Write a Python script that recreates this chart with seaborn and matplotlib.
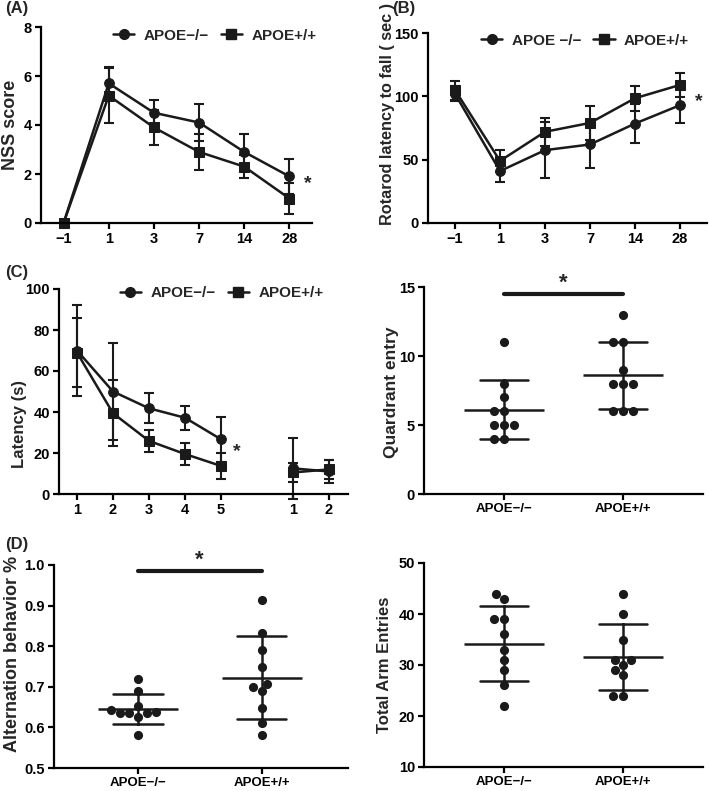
import matplotlib
matplotlib.use('Agg')
import matplotlib.pyplot as plt
from matplotlib.lines import Line2D
import numpy as np
import pandas as pd
import seaborn as sns

KO = 'APOE−/−'
WT = 'APOE+/+'

# (A) NSS score
nss_days = ['−1', '1', '3', '7', '14', '28']
nss_ko = [0, 5.7, 4.5, 4.1, 2.9, 1.9]
nss_ko_err = [0, 0.65, 0.53, 0.74, 0.74, 0.73]
nss_wt = [0, 5.2, 3.9, 2.9, 2.3, 1.0]
nss_wt_err = [0, 1.12, 0.72, 0.73, 0.46, 0.65]

# (B) rotarod
rot_days = ['−1', '1', '3', '7', '14', '28']
rot_ko = [102, 41, 57.5, 62, 78.5, 93]
rot_ko_err = [6, 9, 22, 18.5, 15.5, 14]
rot_wt = [105, 49, 72, 79, 98.5, 109]
rot_wt_err = [7.5, 8.5, 11, 13.5, 10, 9.5]

# (C) water maze latency, training days then probe days
mwm_days = ['1', '2', '3', '4', '5']
mwm_ko = [70, 50, 41.8, 37.2, 26.7]
mwm_ko_err = [22, 23.5, 7.3, 5.8, 11]
mwm_wt = [69, 39.4, 25.9, 19.5, 13.7]
mwm_wt_err = [17, 16.2, 5.3, 5.3, 6.2]
probe_days = ['1', '2']
probe_ko = [12.5, 11.0]
probe_ko_err = [15, 5.5]
probe_wt = [10.5, 12.0]
probe_wt_err = [4.5, 4.5]

# (C) quadrant entries
quad_ko = [11, 8, 7, 6, 6, 5, 5, 5, 4, 4]
quad_wt = [13, 11, 11, 9, 8, 8, 8, 6, 6, 6]

# (D) alternation and arm entries
alt_ko = [0.718, 0.689, 0.653, 0.644, 0.638, 0.636, 0.636, 0.636, 0.626, 0.582]
alt_wt = [0.914, 0.833, 0.79, 0.749, 0.708, 0.700, 0.689, 0.649, 0.612, 0.582]
arm_ko = [44, 43, 39, 39, 36, 33, 31, 29, 26, 22]
arm_wt = [44, 40, 35, 31, 31, 30, 29, 28, 24, 24]

W, H = 709, 791

sns.set_theme(style='ticks')
plt.rcParams['font.family'] = ['Liberation Sans', 'DejaVu Sans']
plt.rcParams['font.weight'] = 'bold'
plt.rcParams['axes.labelweight'] = 'bold'
plt.rcParams['axes.edgecolor'] = 'black'
plt.rcParams['xtick.color'] = 'black'
plt.rcParams['ytick.color'] = 'black'


def px_axes(fig, left, top, right, bottom):
    return fig.add_axes([left / W, 1 - bottom / H, (right - left) / W, (bottom - top) / H])


def style_axes(ax, xsize=10.5):
    sns.despine(ax=ax)
    for s in ('left', 'bottom'):
        ax.spines[s].set_linewidth(1.6)
    ax.tick_params(width=1.6, length=4.5, labelsize=10.5, pad=2)
    ax.tick_params(axis='x', labelsize=xsize)
    ax.set_xlabel('')


def line_panel(ax, pos, ko, ko_err, wt, wt_err, phase):
    n = len(pos)
    df = pd.DataFrame({'pos': list(pos) * 2, 'value': ko + wt, 'err': ko_err + wt_err,
                       'group': [KO] * n + [WT] * n, 'phase': list(phase) * 2})
    sns.lineplot(data=df, x='pos', y='value', style='group', units='phase', estimator=None,
                 markers={KO: 'o', WT: 's'}, dashes=False, color='k', linewidth=1.8,
                 markersize=7, markeredgecolor='k', legend=False, ax=ax, clip_on=False)
    ax.errorbar(df['pos'], df['value'], yerr=df['err'], fmt='none', ecolor='k',
                elinewidth=1.5, capsize=3.5, capthick=1.5, clip_on=False)


def add_legend(ax, ko_label, x, y):
    handles = [Line2D([], [], color='k', marker='o', markersize=7, lw=1.8),
               Line2D([], [], color='k', marker='s', markersize=7, lw=1.8)]
    ax.legend(handles, [ko_label, WT], ncol=2, loc='center left', bbox_to_anchor=(x, y),
              frameon=False, fontsize=11, handlelength=1.4, handletextpad=0.6,
              columnspacing=0.8, borderpad=0, borderaxespad=0)


def scatter_panel(ax, ko, wt):
    df = pd.DataFrame({'group': [KO] * len(ko) + [WT] * len(wt), 'value': ko + wt})
    sns.swarmplot(data=df, x='group', y='value', color='k', size=6.6, ax=ax, clip_on=False)
    sns.pointplot(data=df, x='group', y='value', errorbar='sd', capsize=0.4, color='k',
                  markers='_', markersize=57, markeredgewidth=1.8, linestyles='none',
                  err_kws={'linewidth': 1.8}, ax=ax)
    ax.set_xlim(-0.67, 1.67)


fig = plt.figure(figsize=(W / 100, H / 100), dpi=100)

# (A)
ax = px_axes(fig, 41, 27, 312, 223)
pos = np.arange(len(nss_days))
line_panel(ax, pos, nss_ko, nss_ko_err, nss_wt, nss_wt_err, [0] * len(pos))
ax.set_xticks(pos, nss_days)
ax.set_xlim(-0.5, 5.5)
ax.set_ylim(0, 8)
ax.set_yticks([0, 2, 4, 6, 8])
ax.set_ylabel('NSS score', fontsize=13)
ax.yaxis.set_label_coords(-0.082, 0.5)
ax.text(5.4, 1.6, '*', fontsize=14, ha='center', va='center')
add_legend(ax, KO, 0.265, 0.955)
style_axes(ax)

# (B)
ax = px_axes(fig, 428, 33, 707, 223)
pos = np.arange(len(rot_days))
line_panel(ax, pos, rot_ko, rot_ko_err, rot_wt, rot_wt_err, [0] * len(pos))
ax.set_xticks(pos, rot_days)
ax.set_xlim(-0.6, 5.6)
ax.set_ylim(0, 150)
ax.set_yticks([0, 50, 100, 150])
ax.set_ylabel('Rotarod latency to fall ( sec )', fontsize=11.7)
ax.yaxis.set_label_coords(-0.12, 0.575)
ax.text(5.42, 96, '*', fontsize=14, ha='center', va='center')
add_legend(ax, 'APOE −/−', 0.19, 0.96)
style_axes(ax)

# (C) latency
ax = px_axes(fig, 59, 289, 348, 494)
pos = np.concatenate([np.arange(len(mwm_days)), len(mwm_days) + 1 + np.arange(len(probe_days))])
phase = [0] * len(mwm_days) + [1] * len(probe_days)
line_panel(ax, pos, mwm_ko + probe_ko, mwm_ko_err + probe_ko_err,
           mwm_wt + probe_wt, mwm_wt_err + probe_wt_err, phase)
ax.set_xticks(pos, mwm_days + probe_days)
ax.set_xlim(-0.5, 7.53)
ax.set_ylim(0, 100)
ax.set_yticks([0, 20, 40, 60, 80, 100])
ax.set_ylabel('Latency (s)', fontsize=12)
ax.yaxis.set_label_coords(-0.11, 0.34)
ax.text(4.44, 20.5, '*', fontsize=14, ha='center', va='center')
add_legend(ax, KO, 0.21, 0.98)
style_axes(ax)

# (C) quadrant entry
ax = px_axes(fig, 424, 287, 703, 494)
scatter_panel(ax, quad_ko, quad_wt)
ax.set_ylim(0, 15)
ax.set_yticks([0, 5, 10, 15])
ax.set_ylabel('Quardrant entry', fontsize=12.5)
ax.yaxis.set_label_coords(-0.088, 0.49)
ax.plot([0, 1], [14.5, 14.5], color='k', lw=3, clip_on=False)
ax.text(0.5, 15.3, '*', fontsize=16, ha='center', va='center')
style_axes(ax, xsize=9.5)

# (D) alternation
ax = px_axes(fig, 54, 565, 348, 768)
scatter_panel(ax, alt_ko, alt_wt)
ax.set_xlim(-0.68, 1.7)
ax.set_ylim(0.5, 1.0)
ax.set_yticks([0.5, 0.6, 0.7, 0.8, 0.9, 1.0])
ax.set_ylabel('Alternation behavior %', fontsize=13)
ax.yaxis.set_label_coords(-0.113, 0.56)
ax.plot([0, 1], [0.984, 0.984], color='k', lw=3, clip_on=False)
ax.text(0.5, 1.013, '*', fontsize=16, ha='center', va='center')
style_axes(ax, xsize=9.5)

# (D) arm entries
ax = px_axes(fig, 424, 563, 703, 767)
scatter_panel(ax, arm_ko, arm_wt)
ax.set_ylim(10, 50)
ax.set_yticks([10, 20, 30, 40, 50])
ax.set_ylabel('Total Arm Entries', fontsize=12)
ax.yaxis.set_label_coords(-0.116, 0.5)
style_axes(ax, xsize=9.5)

for label, x, y in [('(A)', 5, 9), ('(B)', 392, 8), ('(C)', 5, 272), ('(D)', 5, 544)]:
    fig.text(x / W, 1 - y / H, label, fontsize=12, fontweight='bold', va='center', ha='left')

fig.savefig('out.png', dpi=100)
